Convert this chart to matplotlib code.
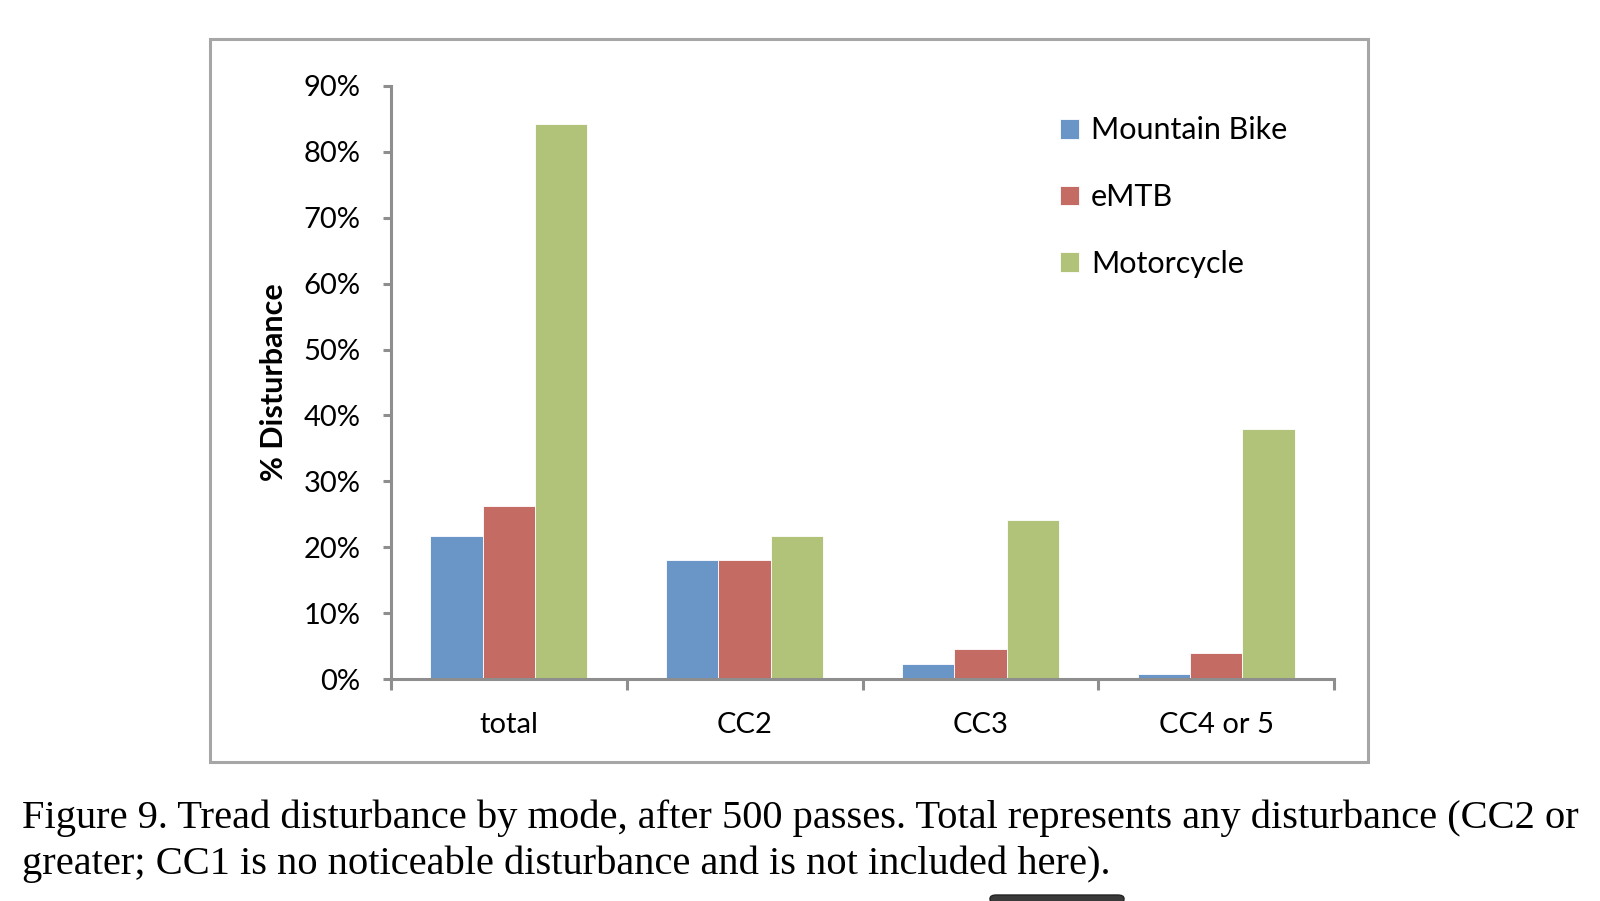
import numpy as np
import matplotlib.pyplot as plt
from matplotlib.patches import Rectangle, FancyBboxPatch
from matplotlib.ticker import FuncFormatter

# Data (fractions)
categories = ['total', 'CC2', 'CC3', 'CC4 or 5']
modes = ['Mountain Bike', 'eMTB', 'Motorcycle']
mountain_bike = [0.217, 0.181, 0.023, 0.008]
emtb = [0.263, 0.181, 0.045, 0.039]
motorcycle = [0.843, 0.217, 0.242, 0.379]
colors = ['#6A95C7', '#C46B63', '#B1C378']

caption = ["Figure 9. Tread disturbance by mode, after 500 passes. Total represents any disturbance (CC2 or",
           "greater; CC1 is no noticeable disturbance and is not included here)."]

W, H = 1600, 901
fig = plt.figure(figsize=(16, 9.01), dpi=100)
ax = fig.add_axes([391 / W, 1 - 679 / H, (1334 - 391) / W, (679 - 86) / H])

sans = 'Lato'
axis_grey = '#8E8E8E'

x = np.arange(len(categories)) + 0.5
bw = 1 / 4.5
for i, (vals, name) in enumerate(zip([mountain_bike, emtb, motorcycle], modes)):
    ax.bar(x + (i - 1) * bw, vals, width=bw, color=colors[i], label=name,
           edgecolor='white', linewidth=0.6, zorder=2)

ax.set_xlim(0, len(categories))
ax.set_ylim(0, 0.9)
ax.set_yticks(np.arange(0, 0.91, 0.1))
ax.yaxis.set_major_formatter(FuncFormatter(lambda v, p: f'{v * 100:.0f}%'))
ax.set_xticks(np.arange(0, len(categories) + 1))
ax.set_xticklabels([])
ax.set_xticks(x, minor=True)
ax.set_xticklabels(categories, minor=True)

for s in ['top', 'right']:
    ax.spines[s].set_visible(False)
for s in ['left', 'bottom']:
    ax.spines[s].set_color(axis_grey)
    ax.spines[s].set_linewidth(2.2)
ax.tick_params(axis='y', which='major', length=6, width=2.2, color=axis_grey,
               labelsize=21, pad=16)
ax.tick_params(axis='x', which='major', length=8, width=2.2, color=axis_grey)
ax.tick_params(axis='x', which='minor', length=0, labelsize=21, pad=24)
for lbl in ax.get_yticklabels() + ax.get_xticklabels(minor=True):
    lbl.set_fontfamily(sans)

ax.set_ylabel('% Disturbance', fontsize=22, fontweight='bold', fontfamily=sans, labelpad=11)

leg = ax.legend(loc='upper left', bbox_to_anchor=(0.68, 0.995), frameon=False,
                prop={'family': sans, 'size': 22}, handlelength=0.62, handleheight=0.62,
                handletextpad=0.4, labelspacing=1.27)

# Outer chart frame
fig.patches.append(Rectangle((210 / W, 1 - 762 / H), (1368 - 210) / W, (762 - 39) / H,
                             transform=fig.transFigure, fill=False,
                             edgecolor='#A6A6A6', linewidth=2.2))

# Caption below the chart
fig.text(22 / W, 1 - 818 / H, caption[0], fontsize=29.2, fontfamily='Liberation Serif',
         va='center', ha='left')
fig.text(22 / W, 1 - 864 / H, caption[1], fontsize=29.2, fontfamily='Liberation Serif',
         va='center', ha='left')

# Dark element cut off at the bottom edge
fig.patches.append(FancyBboxPatch((990 / W, 1 - 903 / H), 134 / W, 8 / H,
                                  boxstyle='round,pad=0,rounding_size=0.004',
                                  transform=fig.transFigure, facecolor='#3A3A3A',
                                  edgecolor='#222222', linewidth=1))

fig.savefig('out.png', dpi=100)
